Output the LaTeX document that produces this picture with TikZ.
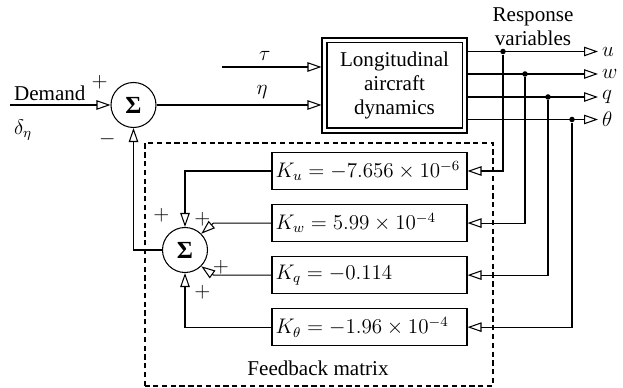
\documentclass[tikz,border=0pt]{standalone}
\usepackage{fontspec}
\setmainfont{Liberation Serif}
\usetikzlibrary{arrows.meta, positioning}

\begin{document}
\begin{tikzpicture}[
    font=\fontsize{12}{13.5}\selectfont,
    line width=0.6pt,
    node distance=0.28cm and 0.8cm,
    sumnode/.style={circle, draw, minimum size=0.9cm, inner sep=0pt, font=\fontsize{14}{14}\selectfont\bfseries},
    plant/.style={rectangle, draw, minimum width=2.9cm, minimum height=1.9cm, align=center},
    gain/.style={rectangle, draw, minimum width=3.9cm, minimum height=0.74cm, text width=3.76cm, inner sep=1.5pt, align=left},
    dot/.style={circle, fill, inner sep=0pt, minimum size=0.11cm},
    sgn/.style={inner sep=1pt},
    arrow/.style={-{Triangle[open, length=0.28cm, width=0.19cm]}},
    lbl/.style={inner sep=2pt}
]
\useasboundingbox (0,0) rectangle (12.46,7.76);

% Forward path
\coordinate (dem) at (0.2,5.66);
\coordinate (tau0) at (4.44,6.42);
\node[sumnode, label={[sgn, label distance=0.08cm]150:$+$}, label={[sgn, label distance=0.13cm]238:$-$}] (sum1) at (2.67,5.66) {Σ};
\node[plant] (plant) at (7.89,6.05) {Longitudinal\\aircraft\\dynamics};
\draw ([shift={(0.11cm,0.11cm)}]plant.south west) rectangle ([shift={(-0.11cm,-0.11cm)}]plant.north east);
\node[lbl, anchor=south west] (demlbl) at (dem) {Demand};
\node[lbl, below right=0.22cm and 0cm of dem] (deltalbl) {$\delta_\eta$};

% Outputs
\node[lbl, anchor=west] (u) at (11.96,6.73) {$u$};
\node[lbl, anchor=west] (w) at (11.96,6.28) {$w$};
\node[lbl, anchor=west] (q) at (11.96,5.82) {$q$};
\node[lbl, anchor=west] (theta) at (11.96,5.37) {$\theta$};
\node[align=center] (resp) at (10.66,7.22) {Response\\variables};

\node[dot] (du) at (10.06,6.73) {};
\node[dot] (dw) at (10.50,6.28) {};
\node[dot] (dq) at (10.96,5.82) {};
\node[dot] (dth) at (11.44,5.37) {};

% Feedback matrix
\node[gain] (ku) at (7.39,4.34) {$K_u = -7.656 \times 10^{-6}$};
\node[gain, below=of ku] (kw) {$K_w = 5.99 \times 10^{-4}$};
\node[gain, below=of kw] (kq) {$K_q = -0.114$};
\node[gain, below=of kq] (kth) {$K_\theta = -1.96 \times 10^{-4}$};
\node[sumnode,
      label={[sgn, label distance=0.12cm]117:$+$},
      label={[sgn, label distance=0cm]72:$+$},
      label={[sgn, label distance=0.08cm]-18:$+$},
      label={[sgn, label distance=0.22cm]-78:$+$}] (sum2) at (3.70,2.76) {Σ};
\draw[dash pattern=on 3pt off 2pt] (2.90,0.04) rectangle (9.86,4.90);
\node (fblbl) at (6.36,0.40) {Feedback matrix};

% Arrows
\draw[arrow] (dem) -- (sum1.west);
\draw[arrow] (sum1.east) -- node[pos=0.64, above] {$\eta$} (sum1.east -| plant.west);
\draw[arrow] (tau0) -- node[pos=0.43, above] {$\tau$} (tau0 -| plant.west);
\draw[arrow] (plant.east |- u.west) -- (u.west);
\draw[arrow] (plant.east |- w.west) -- (w.west);
\draw[arrow] (plant.east |- q.west) -- (q.west);
\draw[arrow] (plant.east |- theta.west) -- (theta.west);
\draw[arrow] (du) |- (ku.east);
\draw[arrow] (dw) |- (kw.east);
\draw[arrow] (dq) |- (kq.east);
\draw[arrow] (dth) |- (kth.east);
\draw[arrow] (ku.west) -| (sum2.north);
\draw[arrow] (kw.west) -- ++(-1.16,0) -- (sum2.45);
\draw[arrow] (kq.west) -- ++(-1.16,0) -- (sum2.-45);
\draw[arrow] (kth.west) -| (sum2.south);
\draw[arrow] (sum2.west) -| (sum1.south);

\end{tikzpicture}
\end{document}
